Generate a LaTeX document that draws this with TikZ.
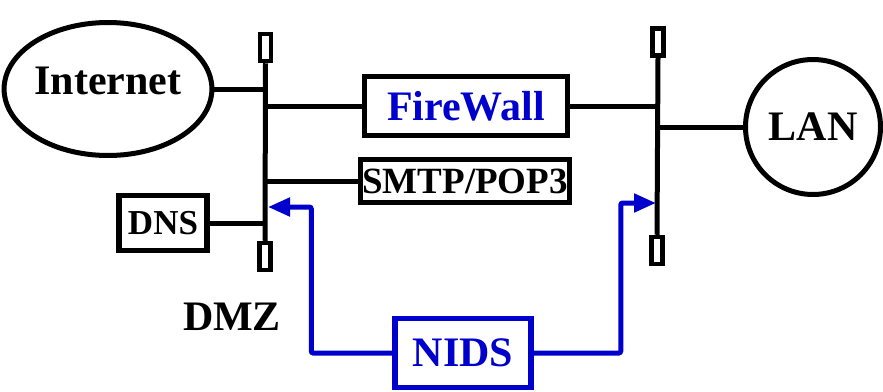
\documentclass[tikz,border=0pt]{standalone}
\usepackage{fontspec}
\setmainfont{Liberation Serif}
\usepackage{tikz}
\usetikzlibrary{arrows.meta,positioning,calc,shapes.geometric}
\definecolor{nidsblue}{RGB}{0,0,204}

\begin{document}
\begin{tikzpicture}[x=1pt,y=-1pt,
  big/.style={font=\fontsize{42}{48}\selectfont\bfseries},
  cloud/.style={big,draw,line width=5pt,ellipse,inner sep=0pt},
  hostbox/.style={draw,line width=5.5pt,inner sep=0pt,align=center},
  term/.style={draw,line width=4.5pt,inner sep=0pt,minimum width=11pt,minimum height=27pt},
  wire/.style={line width=5pt},
  tap/.style={-{Triangle[length=22pt,width=18pt]},draw=nidsblue,line width=5pt,rounded corners=2pt}]

\useasboundingbox (0,0) rectangle (883,391);
\node[cloud,minimum width=185pt,minimum height=133pt,text depth=16pt] (internet) at (108,89) {Internet};
\node[cloud,circle,minimum size=135pt] (lan) at (813,127) {LAN};
\node[term] (dmztop) at (265.5,47.5) {};
\node[term] (dmzbot) at (265,256.5) {};
\node[term] (lantop) at (658,42) {};
\node[term] (lanbot) at (657,250.5) {};
\draw[wire] (dmztop.south) -- (dmzbot.north);
\draw[wire] (lantop.south) -- (lanbot.north);
\node[hostbox,big,text=nidsblue,minimum width=203pt,minimum height=59pt] (firewall) at (466,106) {FireWall};
\node[hostbox,font=\fontsize{37}{42}\selectfont\bfseries,minimum width=209pt,minimum height=43pt] (smtp) at (465,181) {SMTP/POP3};
\node[hostbox,font=\fontsize{35}{40}\selectfont\bfseries,minimum width=88pt,minimum height=55pt] (dns) at (163,223) {DNS};
\node[hostbox,big,draw=nidsblue,text=nidsblue,minimum width=136pt,minimum height=69pt] (nids) at (463,353) {NIDS};
\node[big,anchor=base] (dmz) at (232,330) {DMZ};
\coordinate (dmztap) at (268,207);
\coordinate (lantap) at (656,203);
\draw[wire] (internet.east) -- (internet.east -| dmztop);
\draw[wire] (firewall.west -| dmztop) -- (firewall.west);
\draw[wire] (firewall.east) -- (firewall.east -| lantop);
\draw[wire] (lan.west -| lantop) -- (lan.west);
\draw[wire] (smtp.west -| dmztop) -- (smtp.west);
\draw[wire] (dns.east) -- (dns.east -| dmztop);
\draw[tap] (nids.west) -- ++(-81,0) |- (dmztap);
\draw[tap] (nids.east) -- ++(87,0) |- (lantap);

\end{tikzpicture}
\end{document}
